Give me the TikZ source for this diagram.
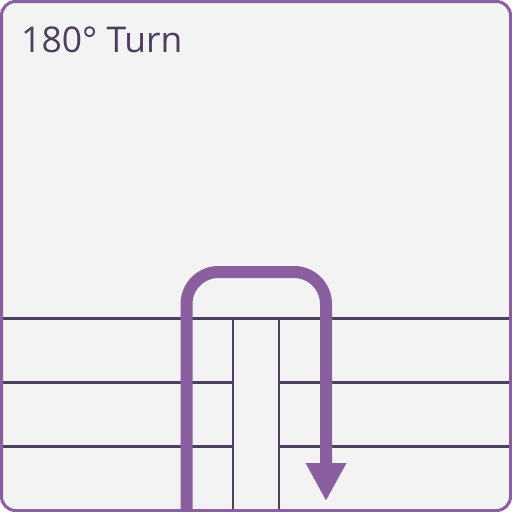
\documentclass[tikz,border=0pt]{standalone}
\usepackage{fontspec}
\setmainfont{Open Sans}
\usepackage{tikz}
\usetikzlibrary{arrows.meta}
\definecolor{panelbg}{HTML}{F3F3F3}
\definecolor{frame}{HTML}{8A5FA0}
\definecolor{laneline}{HTML}{4E3F5E}
\definecolor{turnpath}{HTML}{8A5FA0}

\begin{document}
\begin{tikzpicture}[x=1pt, y=-1pt]
  \useasboundingbox (0,0) rectangle (512,512);
  \fill[panelbg, rounded corners=14pt] (1.5,1.5) rectangle (510.5,510.5);
  \begin{scope}
    \clip[rounded corners=14pt] (1.5,1.5) rectangle (510.5,510.5);
    % lane lines
    \draw[laneline, line width=2.2pt] (0,318.5) -- (512,318.5);
    \foreach \y in {382.5, 446.5} {
      \draw[laneline, line width=2.2pt] (0,\y) -- (233,\y);
      \draw[laneline, line width=2.2pt] (279,\y) -- (512,\y);
    }
    \foreach \x in {233, 279}
      \draw[laneline, line width=2.2pt] (\x,318.5) -- (\x,512);
    % u-turn
    \coordinate (start) at (186.5,514);
    \coordinate (left top) at (186.5,272);
    \coordinate (right top) at (326,272);
    \coordinate (finish) at (326,501);
    \draw[turnpath, line width=12pt, rounded corners=32pt,
      -{Triangle[length=38pt, width=38pt]}]
      (start) -- (left top) -- (right top) -- (finish);
  \end{scope}
  \draw[frame, line width=3pt, rounded corners=14pt] (1.5,1.5) rectangle (510.5,510.5);
  \node[anchor=base west, inner sep=0pt, text=laneline, font=\fontsize{35.5}{42}\selectfont]
    (title) at (21,52) {180° Turn};
\end{tikzpicture}
\end{document}
